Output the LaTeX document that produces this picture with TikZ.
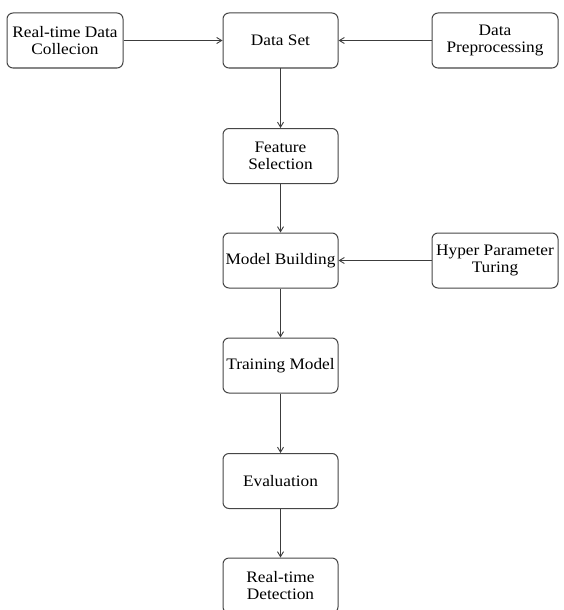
\documentclass[tikz,border=0pt]{standalone}
\usepackage{fontspec}
\setmainfont[FakeStretch=1.08]{Liberation Serif}
\usepackage{tikz}
\usetikzlibrary{
  arrows.meta,
  positioning
}
\definecolor{boxline}{RGB}{70,70,70}
\definecolor{arrline}{RGB}{60,60,60}
\tikzset{
  stagebox/.style={draw=boxline, line width=1pt, rounded corners=6pt, fill=white,
    minimum width=115pt, minimum height=55pt, inner sep=2pt,
    align=center, font=\fontsize{16}{17}\selectfont},
  sidebox/.style={stagebox, minimum width=126pt},
  arr/.style={-{Straight Barb[length=5pt, width=6pt]}, line width=0.9pt, arrline},
}

\begin{document}
\begin{tikzpicture}[x=1pt, y=-1pt]
  \useasboundingbox (0,0) rectangle (563,610);

  % Main pipeline
  \node[stagebox] (dataset)  at (280.5, 40.5) {Data Set};
  \node[stagebox] (feature)  at (280.5, 156)  {Feature\\Selection};
  \node[stagebox] (model)    at (280.5, 260.5) {Model Building};
  \node[stagebox] (training) at (280.5, 365.5) {Training Model};
  \node[stagebox] (eval)     at (280.5, 481)  {Evaluation};
  \node[stagebox] (detect)   at (280.5, 585.5) {Real-time\\Detection};

  % Side inputs
  \node[stagebox, minimum width=116pt] (collect) at (65, 40.5)
    {Real-time Data\\Collecion};
  \node[sidebox] (prep)  at (495, 40.5)  {Data\\Preprocessing};
  \node[sidebox] (hyper) at (495, 260.5) {Hyper Parameter\\Turing};

  % Arrows
  \draw[arr] (collect) -- (dataset);
  \draw[arr] (prep) -- (dataset);
  \draw[arr] (dataset) -- (feature);
  \draw[arr] (feature) -- (model);
  \draw[arr] (hyper) -- (model);
  \draw[arr] (model) -- (training);
  \draw[arr] (training) -- (eval);
  \draw[arr] (eval) -- (detect);
\end{tikzpicture}
\end{document}
